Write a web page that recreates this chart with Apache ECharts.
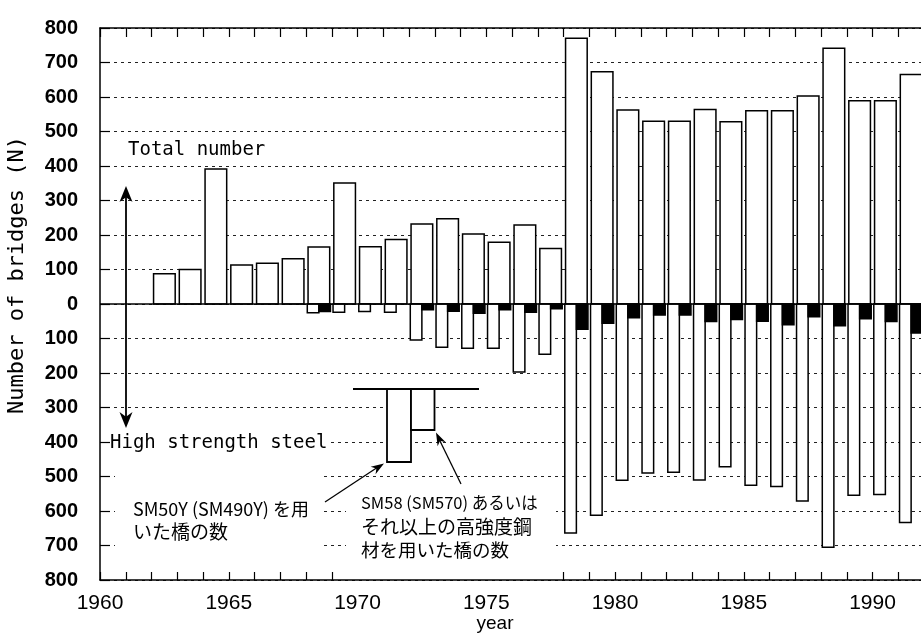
<!DOCTYPE html>
<html>
<head>
<meta charset="utf-8">
<script src="https://cdn.jsdelivr.net/npm/echarts@6/dist/echarts.min.js"></script>
<style>
html,body{margin:0;padding:0;background:#fff;}
#c{width:921px;height:635px;}
</style>
</head>
<body>
<div id="c"></div>
<script>
// ---- data ----
const years = [1962,1963,1964,1965,1966,1967,1968,1969,1970,1971,1972,1973,1974,1975,1976,1977,1978,1979,1980,1981,1982,1983,1984,1985,1986,1987,1988,1989,1990,1991];
const totalNumber = [88,100,391,113,118,131,165,351,166,187,232,247,203,179,229,161,770,673,562,530,530,564,528,560,560,603,741,589,589,665];
const sm50y = [0,0,0,0,0,0,25,24,22,24,104,125,128,128,197,146,664,612,511,490,488,510,472,525,529,571,705,554,552,633];
const sm58 = [0,0,0,0,0,0,22,0,0,0,17,21,27,17,24,14,73,56,40,32,32,51,45,50,60,37,63,43,51,84];
const yearTickLabels = [1960,1965,1970,1975,1980,1985,1990];
const bottomTickYears = [1960,1961,1962,1963,1964,1965,1966,1967,1968,1969,1978,1979,1980,1981,1982,1983,1984,1985,1986,1987,1988,1989,1990,1991,1992];

const chart = echarts.init(document.getElementById('c'), null, {renderer:'canvas'});

function barSeries(values, off0, off1, sign, fill) {
  return {
    type: 'custom',
    xAxisIndex: 0, yAxisIndex: 0,
    data: years.map((y, i) => [y, values[i]]),
    renderItem: function (params, api) {
      const yr = api.value(0), v = api.value(1);
      if (!v) return null;
      const p0 = api.coord([yr + off0, 0]);
      const p1 = api.coord([yr + off1, sign * v]);
      return {
        type: 'rect',
        shape: {x: p0[0], y: Math.min(p0[1], p1[1]), width: p1[0] - p0[0], height: Math.abs(p1[1] - p0[1])},
        style: {fill: fill, stroke: '#000', lineWidth: 1.5}
      };
    },
    z: 3
  };
}

const monoFont = '"DejaVu Sans Mono", "Liberation Mono", monospace';
const jpFont = '"Noto Sans CJK JP", sans-serif';
const narrowFont = '"Liberation Sans Narrow", "Liberation Sans", sans-serif';

function arrowHead(tx, ty, fx, fy, len, half) {
  const dx = tx - fx, dy = ty - fy, L = Math.hypot(dx, dy);
  const ux = dx / L, uy = dy / L, px = -uy, py = ux;
  const bx = tx - ux * len, by = ty - uy * len;
  const nx = tx - ux * len * 0.7, ny = ty - uy * len * 0.7;
  return [[tx, ty], [bx + px * half, by + py * half], [nx, ny], [bx - px * half, by - py * half]];
}

const graphics = [
  // blank areas behind the notes (grid lines interrupted)
  {type:'rect', shape:{x:115, y:462, width:207, height:100}, style:{fill:'#fff'}, z:1},
  {type:'rect', shape:{x:346, y:492, width:210, height:70}, style:{fill:'#fff'}, z:1},
  {type:'text', x: 17, y: 275, rotation: Math.PI/2,
   style:{text:'Number of bridges (N)', font:'22px ' + monoFont, fill:'#000', align:'center', verticalAlign:'middle'}},
  {type:'text', x: 495, y: 624, style:{text:'year', font:'19px ' + narrowFont, fill:'#000', align:'center', verticalAlign:'middle'}},
  {type:'text', x: 128, y: 150, style:{text:'Total number', font:'19px ' + monoFont, fill:'#000', verticalAlign:'middle'}, z:10},
  {type:'text', x: 110, y: 443, style:{text:'High strength steel', font:'19px ' + monoFont, fill:'#000', verticalAlign:'middle', backgroundColor:'#fff'}, z:10},
  // double arrow
  {type:'line', shape:{x1:126, y1:195, x2:126, y2:418}, style:{stroke:'#000', lineWidth:1.8}, z:10},
  {type:'polygon', shape:{points: arrowHead(126, 186, 126, 300, 16, 6.5)}, style:{fill:'#000'}, z:10},
  {type:'polygon', shape:{points: arrowHead(126, 428, 126, 300, 16, 6.5)}, style:{fill:'#000'}, z:10},
  // legend inset
  {type:'line', shape:{x1:353, y1:389, x2:479, y2:389}, style:{stroke:'#000', lineWidth:1.8}, z:10},
  {type:'rect', shape:{x:387, y:389, width:24, height:73}, style:{fill:'#fff', stroke:'#000', lineWidth:1.8}, z:10},
  {type:'rect', shape:{x:411, y:389, width:23.5, height:41}, style:{fill:'#fff', stroke:'#000', lineWidth:1.8}, z:10},
  // pointer arrows
  {type:'line', shape:{x1:325, y1:502, x2:378, y2:467}, style:{stroke:'#000', lineWidth:1.3}, z:10},
  {type:'polygon', shape:{points: arrowHead(384, 463.5, 325, 502, 13, 4.5)}, style:{fill:'#000'}, z:10},
  {type:'line', shape:{x1:461, y1:484, x2:439, y2:439}, style:{stroke:'#000', lineWidth:1.3}, z:10},
  {type:'polygon', shape:{points: arrowHead(436, 432.5, 461, 484, 13, 4.5)}, style:{fill:'#000'}, z:10},
  // Japanese notes
  {type:'text', x: 133, y: 509, style:{text:'SM50Y (SM490Y) を用', font:'18px ' + jpFont, fill:'#000', verticalAlign:'middle'}, z:10},
  {type:'text', x: 133, y: 532, style:{text:'いた橋の数', font:'19px ' + jpFont, fill:'#000', verticalAlign:'middle'}, z:10},
  {type:'text', x: 361, y: 503, style:{text:'SM58 (SM570) あるいは', font:'16.5px ' + jpFont, fill:'#000', verticalAlign:'middle'}, z:10},
  {type:'text', x: 361, y: 527, style:{text:'それ以上の高強度鋼', font:'19px ' + jpFont, fill:'#000', verticalAlign:'middle'}, z:10},
  {type:'text', x: 361, y: 550, style:{text:'材を用いた橋の数', font:'18.5px ' + jpFont, fill:'#000', verticalAlign:'middle'}, z:10}
];

const option = {
  backgroundColor: '#fff',
  animation: false,
  grid: {left: 100, right: -3, top: 28, bottom: 55, containLabel: false, outerBoundsMode: 'none'},
  xAxis: [
    {
      type: 'value', position: 'bottom', min: 1960, max: 1992, interval: 1,
      axisLine: {show: true, onZero: false, lineStyle: {color: '#000', width: 1.5}},
      axisTick: {show: true, inside: true, length: 8, customValues: bottomTickYears, lineStyle: {color: '#000', width: 1.2}},
      axisLabel: {
        show: true, margin: 13, color: '#000',
        fontFamily: narrowFont,
        fontSize: 21,
        formatter: v => yearTickLabels.indexOf(v) >= 0 ? String(v) : ''
      },
      splitLine: {show: false}
    },
    {
      type: 'value', position: 'top', min: 1960, max: 1992, interval: 1,
      axisLine: {show: true, onZero: false, lineStyle: {color: '#000', width: 1.5}},
      axisTick: {show: true, inside: true, length: 9, lineStyle: {color: '#000', width: 1.2}},
      axisLabel: {show: false},
      splitLine: {show: false}
    }
  ],
  yAxis: [
    {
      type: 'value', min: -800, max: 800, interval: 100,
      axisLine: {show: true, onZero: false, lineStyle: {color: '#000', width: 1.5}},
      axisTick: {show: true, inside: true, length: 10, lineStyle: {color: '#000', width: 1.2}},
      axisLabel: {
        show: true, margin: 22, color: '#000', fontWeight: 'bold',
        fontFamily: '"Liberation Sans", Arial, sans-serif', fontSize: 20,
        formatter: v => String(Math.abs(v))
      },
      splitLine: {show: true, lineStyle: {color: '#222', width: 1, type: [3, 4]}}
    }
  ],
  series: [
    barSeries(totalNumber, 0.08, 0.92, 1, '#fff'),
    barSeries(sm50y, 0.05, 0.5, -1, '#fff'),
    barSeries(sm58, 0.5, 0.95, -1, '#000'),
    {
      type: 'line', data: [], xAxisIndex: 0, yAxisIndex: 0,
      markLine: {
        silent: true, symbol: 'none', label: {show: false},
        lineStyle: {color: '#000', width: 1.5, type: 'solid'},
        data: [{yAxis: 0}]
      },
      z: 2
    }
  ],
  graphic: graphics
};
chart.setOption(option);
</script>
</body>
</html>
